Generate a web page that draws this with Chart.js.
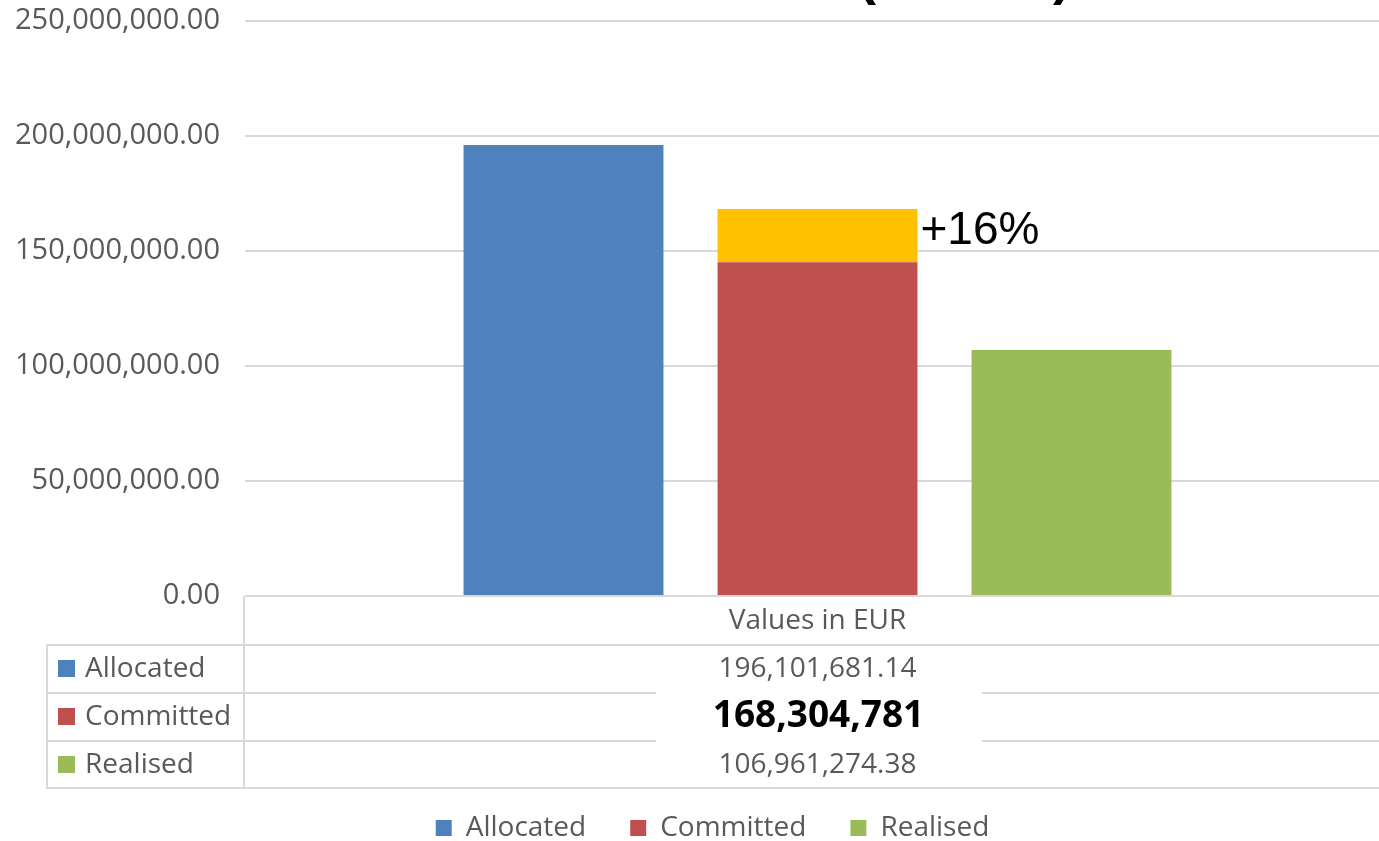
<!DOCTYPE html>
<html>
<head>
<meta charset="utf-8">
<script src="https://cdn.jsdelivr.net/npm/chart.js@4/dist/chart.umd.min.js"></script>
<style>
  html, body { margin: 0; padding: 0; background: #ffffff; overflow: hidden; }
  #wrap { width: 1379px; height: 841px; overflow: hidden; position: relative; }
  canvas { display: block; }
</style>
</head>
<body>
<div id="wrap"><canvas id="c" width="1390" height="852"></canvas></div>
<script>
// ---- data ----
const categories = ['Values in EUR'];
const seriesNames = ['Allocated', 'Committed', 'Realised'];
const allocated = [196101681.14];
const committedBase = [145090000];
const committedIncrease = [23214781];
const committedTotal = [168304781];
const realised = [106961274.38];
const increaseLabel = '+16%';
const yMax = 250000000;
const yStep = 50000000;
const titleText = '(in EUR)';

const colors = { Allocated: '#4F81BD', Committed: '#C0504D', Increase: '#FFC000', Realised: '#9BBB59' };
const gray = '#595959';
const gridColor = '#D9D9D9';
const FONT = '"Open Sans", "Noto Sans", sans-serif';

function fmt2(v) { return Number(v).toLocaleString('en-US', { minimumFractionDigits: 2, maximumFractionDigits: 2 }); }
function fmt0(v) { return Number(v).toLocaleString('en-US', { maximumFractionDigits: 0 }); }

const tablePlugin = {
  id: 'tablePlugin',
  beforeDraw(chart) {
    if (chart.scales.y) chart.scales.y._computeLabelArea = () => undefined;
  },
  afterDatasetsDraw(chart) {
    const ctx = chart.ctx;
    const meta = chart.getDatasetMeta(2);
    const el = meta.data[0];
    if (el) {
      ctx.save();
      ctx.fillStyle = '#000';
      ctx.font = '46px "Liberation Sans", Arial, sans-serif';
      ctx.textAlign = 'left';
      ctx.textBaseline = 'middle';
      ctx.fillText(increaseLabel, el.x + el.width / 2 + 3, el.y + 22);
      ctx.restore();
    }
  },
  afterDraw(chart) {
    const ctx = chart.ctx;
    const ca = chart.chartArea;
    const W = chart.width;
    const cx = chart.scales.x.getPixelForValue(0);
    const rowH = 48;
    const b = ca.bottom;
    const leftX = 47;
    ctx.save();
    ctx.strokeStyle = gridColor;
    ctx.lineWidth = 2;
    ctx.beginPath();
    ctx.moveTo(ca.left - 1, b); ctx.lineTo(ca.left - 1, b + rowH * 4);
    ctx.moveTo(leftX, b + rowH); ctx.lineTo(leftX, b + rowH * 4);
    for (let i = 1; i <= 4; i++) {
      const y = b + rowH * i + (i === 4 ? 0 : 1);
      ctx.moveTo(leftX - 1, y); ctx.lineTo(W, y);
    }
    ctx.stroke();

    ctx.fillStyle = gray;
    ctx.font = '28px ' + FONT;
    ctx.textBaseline = 'middle';
    ctx.textAlign = 'center';
    ctx.fillText(categories[0], cx, b + 25);

    const vals = [fmt2(allocated[0]), fmt0(committedTotal[0]), fmt2(realised[0])];
    seriesNames.forEach((name, i) => {
      const yc = b + rowH * (i + 1) + 25;
      ctx.fillStyle = colors[name];
      ctx.fillRect(58, yc - 9, 17, 17);
      ctx.fillStyle = gray;
      ctx.textAlign = 'left';
      ctx.font = '28px ' + FONT;
      ctx.fillText(name, 85, yc);
      if (i !== 1) {
        ctx.textAlign = 'center';
        ctx.fillText(vals[i], cx, yc);
      }
    });
    ctx.fillStyle = '#ffffff';
    ctx.fillRect(656, b + 88, 326, 62);
    ctx.fillStyle = '#000';
    ctx.font = 'bold 37px ' + FONT;
    ctx.textAlign = 'center';
    ctx.fillText(vals[1], cx + 1, b + rowH * 2 + 24);

    ctx.font = 'bold 54px "Liberation Sans", Arial, sans-serif';
    ctx.textAlign = 'left';
    ctx.textBaseline = 'alphabetic';
    ctx.fillText(titleText, 858, -6);
    ctx.restore();
  }
};

function build() {
  new Chart(document.getElementById('c'), {
    type: 'bar',
    data: {
      labels: categories,
      datasets: [
        { label: seriesNames[0], data: allocated, backgroundColor: colors.Allocated, stack: 's1', borderWidth: 0 },
        { label: seriesNames[1], data: committedBase, backgroundColor: colors.Committed, stack: 's2', borderWidth: 0 },
        { label: 'Increase', data: committedIncrease, backgroundColor: colors.Increase, stack: 's2', borderWidth: 0 },
        { label: seriesNames[2], data: realised, backgroundColor: colors.Realised, stack: 's3', borderWidth: 0 }
      ]
    },
    options: {
      responsive: false,
      animation: false,
      devicePixelRatio: 1,
      categoryPercentage: 0.6655,
      barPercentage: 0.787,
      layout: { padding: { top: 21, left: 35, right: 0, bottom: 0 } },
      plugins: {
        tooltip: { enabled: false },
        title: { display: false },
        legend: {
          display: true,
          position: 'bottom',
          labels: {
            filter: (item) => item.text !== 'Increase',
            boxWidth: 16,
            boxHeight: 16,
            padding: 44,
            color: gray,
            font: { family: FONT, size: 28 }
          }
        }
      },
      scales: {
        x: {
          stacked: true,
          grid: { display: false, drawTicks: false },
          border: { display: false },
          ticks: { display: false },
          afterFit: (s) => { s.height = 174; }
        },
        y: {
          stacked: true,
          min: 0,
          max: yMax,
          ticks: {
            stepSize: yStep,
            padding: 0,
            color: gray,
            font: { family: FONT, size: 29 },
            callback: (v) => fmt2(v)
          },
          grid: { color: gridColor, lineWidth: 2, drawTicks: true, tickLength: 25, tickColor: 'rgba(0,0,0,0)' },
          border: { display: false },
          afterFit: (s) => { s.width = 210; }
        }
      }
    },
    plugins: [tablePlugin]
  });
}

const loads = [
  '28px "Open Sans"', '29px "Open Sans"', 'bold 37px "Open Sans"', '46px "Liberation Sans"', 'bold 54px "Liberation Sans"'
].map(f => document.fonts.load(f).catch(() => null));
Promise.all(loads).then(build, build);
</script>
</body>
</html>
